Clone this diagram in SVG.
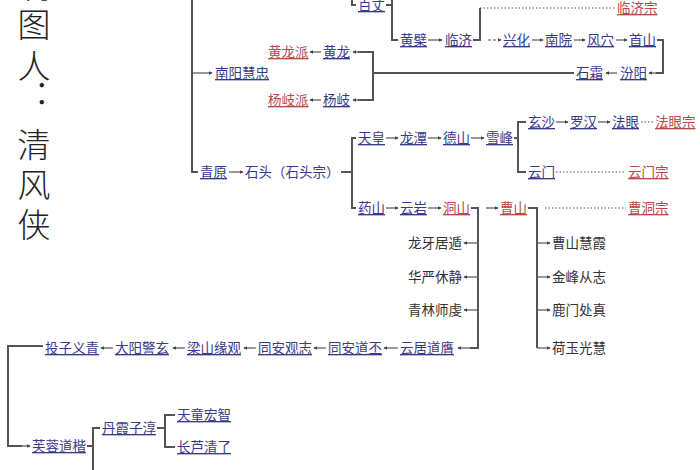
<svg xmlns="http://www.w3.org/2000/svg" width="700" height="470" viewBox="0 0 700 470">
<defs>
<marker id="ah" viewBox="0 0 6 6" refX="5" refY="3" markerWidth="4" markerHeight="4" markerUnits="userSpaceOnUse" orient="auto"><path d="M0,0 L6,3 L0,6 Z" fill="#444"/></marker>
<style>
text{font-family:"Noto Sans CJK SC","Liberation Sans",sans-serif;font-size:13.5px}
.n{fill:#3a3a8c;text-decoration:underline}
.p{fill:#3a3a8c}
.r{fill:#b84a4a;text-decoration:underline}
.k{fill:#333}
.t{font-family:"Noto Sans CJK SC",sans-serif;font-size:33px;font-weight:300;fill:#222;text-anchor:middle}
.b{fill:none;stroke:#555;stroke-width:2}
.a{fill:none;stroke:#555;stroke-width:1.2;marker-end:url(#ah)}
.d{fill:none;stroke:#555;stroke-width:1.2;stroke-dasharray:1.5 2}
</style>
</defs>
<rect width="700" height="470" fill="#fff"/>
<g id="title">
<text class="t" x="34" y="-2">制</text>
<text class="t" x="34" y="37">图</text>
<text class="t" x="34" y="78">人</text>
<text class="t" x="50" y="104">：</text>
<text class="t" x="34" y="157">清</text>
<text class="t" x="34" y="197">风</text>
<text class="t" x="34" y="237">侠</text>
</g>
<g id="connectors">
<path class="b" d="M192,-2 V172 H198"/>
<path class="a" d="M192,73 H212"/>
<path class="b" d="M352,-2 V5 H356"/>
<path class="b" d="M386,5 H392 M392,-2 V40 H398"/>
<path class="a" d="M428,40 H442"/>
<path class="b" d="M473,40 H480 V8"/>
<path class="d" d="M480,8 H615"/>
<path class="a" d="M488,40 H501" stroke-dasharray="3 2"/>
<path class="a" d="M532,40 H543"/>
<path class="a" d="M574,40 H585"/>
<path class="a" d="M616,40 H627"/>
<path class="b" d="M657,40 H663 V73 H656"/>
<path class="a" d="M658,73 H649"/>
<path class="a" d="M617,73 H606"/>
<path class="b" d="M574,73 H373"/>
<path class="b" d="M358,52 H373 V100 H358"/>
<path class="a" d="M360,52 H353"/>
<path class="a" d="M360,100 H353"/>
<path class="a" d="M321,52 H310"/>
<path class="a" d="M321,100 H310"/>
<path class="a" d="M229,172 H243"/>
<path class="b" d="M341,172 H352 M356,138 H352 V208 H356"/>
<path class="a" d="M386,138 H398"/>
<path class="a" d="M428,138 H441"/>
<path class="a" d="M471,138 H484"/>
<path class="b" d="M514,138 H518 M526,122 H518 V172 H526"/>
<path class="a" d="M556,122 H568"/>
<path class="a" d="M598,122 H610"/>
<path class="d" d="M641,122 H653"/>
<path class="d" d="M556,172 H626"/>
<path class="a" d="M386,208 H398"/>
<path class="a" d="M428,208 H441"/>
<path class="b" d="M471,208 H478 V348 H470"/>
<path class="a" d="M478,243 H464"/>
<path class="a" d="M478,277 H464"/>
<path class="a" d="M478,310 H464"/>
<path class="a" d="M470,348 H458"/>
<path class="a" d="M486,208 H498"/>
<path class="b" d="M528,208 H537 V348"/>
<path class="a" d="M537,243 H550"/>
<path class="a" d="M537,277 H550"/>
<path class="a" d="M537,310 H550"/>
<path class="a" d="M537,348 H550"/>
<path class="d" d="M545,208 H626"/>
<path class="a" d="M398,348 H384"/>
<path class="a" d="M326,348 H314"/>
<path class="a" d="M256,348 H244"/>
<path class="a" d="M185,348 H173"/>
<path class="a" d="M113,348 H101"/>
<path class="b" d="M43,346 H8 V446 H22"/>
<path class="a" d="M20,446 H30"/>
<path class="b" d="M87,446 H93 M100,428 H93 V472"/>
<path class="b" d="M157,428 H165 M175,415 H165 V447 H175"/>
</g>
<g id="n-baizhang"><text class="n" x="358" y="10">百丈</text></g>
<g id="n-huangbo"><text class="n" x="400" y="45">黄檗</text></g>
<g id="n-linji"><text class="n" x="445" y="45">临济</text></g>
<g id="n-linjizong"><text class="r" x="617" y="13">临济宗</text></g>
<g id="n-xinghua"><text class="n" x="503" y="45">兴化</text></g>
<g id="n-nanyuan"><text class="n" x="545" y="45">南院</text></g>
<g id="n-fengxue"><text class="n" x="587" y="45">风穴</text></g>
<g id="n-shoushan"><text class="n" x="629" y="45">首山</text></g>
<g id="n-fenyang"><text class="n" x="620" y="78">汾阳</text></g>
<g id="n-shishuang"><text class="n" x="576" y="78">石霜</text></g>
<g id="n-huanglong"><text class="n" x="323" y="57">黄龙</text></g>
<g id="n-huanglongpai"><text class="r" x="268" y="57">黄龙派</text></g>
<g id="n-yangqi"><text class="n" x="323" y="105">杨岐</text></g>
<g id="n-yangqipai"><text class="r" x="268" y="105">杨岐派</text></g>
<g id="n-nanyang"><text class="n" x="215" y="78">南阳慧忠</text></g>
<g id="n-qingyuan"><text class="n" x="200" y="177">青原</text></g>
<g id="n-shitou"><text class="p" x="245" y="177">石头（石头宗）</text></g>
<g id="n-tianhuang"><text class="n" x="358" y="143">天皇</text></g>
<g id="n-longtan"><text class="n" x="400" y="143">龙潭</text></g>
<g id="n-deshan"><text class="n" x="443" y="143">德山</text></g>
<g id="n-xuefeng"><text class="n" x="486" y="143">雪峰</text></g>
<g id="n-xuansha"><text class="n" x="528" y="127">玄沙</text></g>
<g id="n-luohan"><text class="n" x="570" y="127">罗汉</text></g>
<g id="n-fayan"><text class="n" x="612" y="127">法眼</text></g>
<g id="n-fayanzong"><text class="r" x="655" y="127">法眼宗</text></g>
<g id="n-yunmen"><text class="n" x="528" y="177">云门</text></g>
<g id="n-yunmenzong"><text class="r" x="628" y="177">云门宗</text></g>
<g id="n-yaoshan"><text class="n" x="358" y="213">药山</text></g>
<g id="n-yunyan"><text class="n" x="400" y="213">云岩</text></g>
<g id="n-dongshan"><text class="r" x="443" y="213">洞山</text></g>
<g id="n-caoshan"><text class="r" x="500" y="213">曹山</text></g>
<g id="n-caodongzong"><text class="r" x="628" y="213">曹洞宗</text></g>
<g id="n-longya"><text class="k" x="408" y="248">龙牙居遁</text></g>
<g id="n-huayan"><text class="k" x="408" y="282">华严休静</text></g>
<g id="n-qinglin"><text class="k" x="408" y="315">青林师虔</text></g>
<g id="n-caoshanhx"><text class="k" x="552" y="248">曹山慧霞</text></g>
<g id="n-jinfeng"><text class="k" x="552" y="282">金峰从志</text></g>
<g id="n-lumen"><text class="k" x="552" y="315">鹿门处真</text></g>
<g id="n-heyu"><text class="k" x="552" y="353">荷玉光慧</text></g>
<g id="n-yunju"><text class="n" x="400" y="353">云居道膺</text></g>
<g id="n-tongandp"><text class="n" x="328" y="353">同安道丕</text></g>
<g id="n-tongangz"><text class="n" x="258" y="353">同安观志</text></g>
<g id="n-liangshan"><text class="n" x="187" y="353">梁山缘观</text></g>
<g id="n-dayang"><text class="n" x="115" y="353">大阳警玄</text></g>
<g id="n-touzi"><text class="n" x="45" y="353">投子义青</text></g>
<g id="n-furong"><text class="n" x="32" y="451">芙蓉道楷</text></g>
<g id="n-danxia"><text class="n" x="102" y="433">丹霞子淳</text></g>
<g id="n-tiantong"><text class="n" x="177" y="420">天童宏智</text></g>
<g id="n-changlu"><text class="n" x="177" y="452">长芦清了</text></g>
</svg>
